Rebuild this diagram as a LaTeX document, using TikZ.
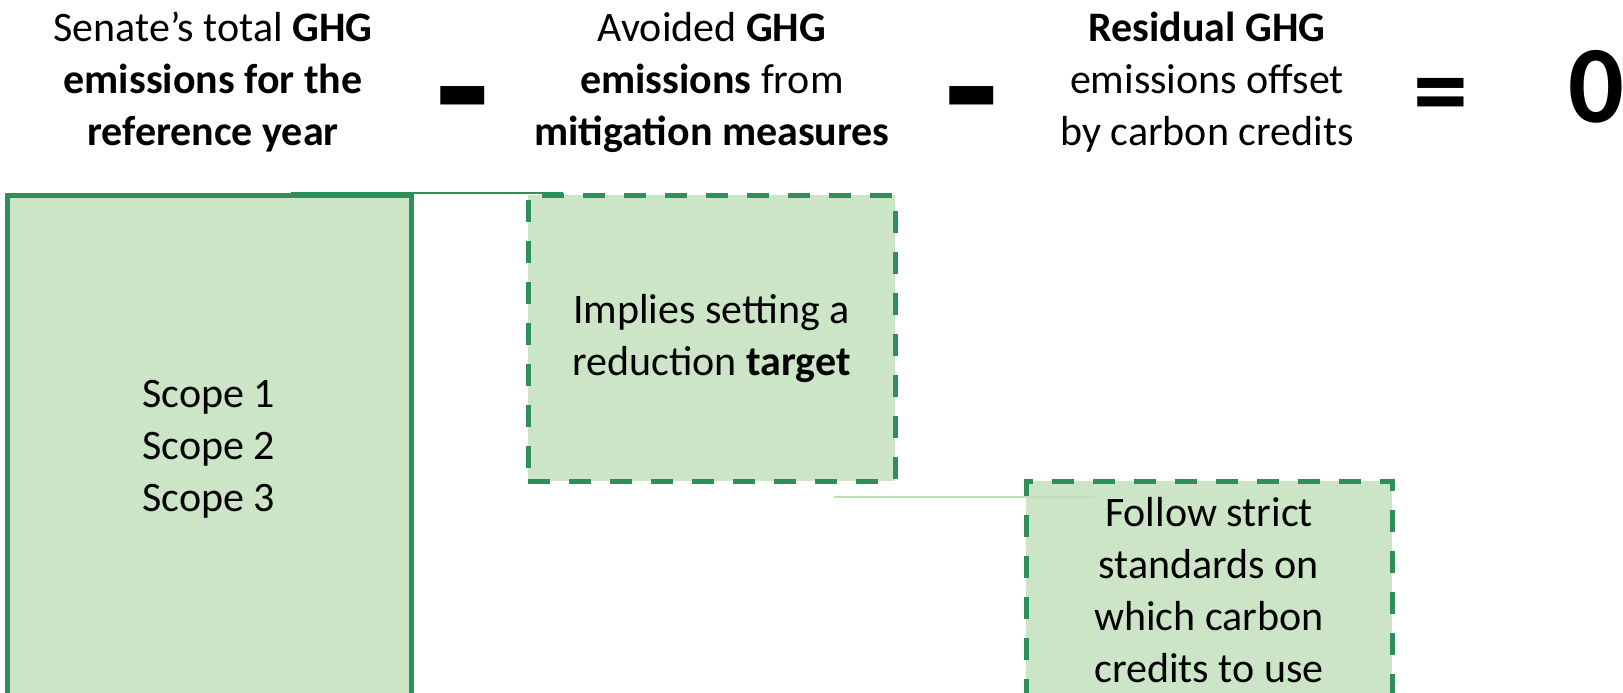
\documentclass[tikz,border=0pt]{standalone}
\usepackage{fontspec}
\setmainfont{Carlito}
\usetikzlibrary{positioning}
\definecolor{boxfill}{HTML}{CCE5C7}
\definecolor{boxline}{HTML}{2E8F5A}
\definecolor{linkline}{HTML}{C3DDBB}

\begin{document}
\begin{tikzpicture}[x=1pt, y=-1pt, font=\fontsize{42}{52}\selectfont,
  box/.style={rectangle, fill=boxfill, draw=boxline, line width=5pt, outer sep=0pt, inner sep=0pt, align=center},
  dashbox/.style={box, dash pattern=on 22pt off 19pt},
  head/.style={align=center, inner sep=0pt},
  sign/.style={font=\fontsize{110}{110}\selectfont\bfseries, inner sep=0pt, anchor=base}]
  \useasboundingbox (0,0) rectangle (1623,693);
  \clip (0,0) rectangle (1623,693);
  \node[box, minimum width=404pt, minimum height=508pt, anchor=north west] (scope) at (7,195) {Scope 1\\Scope 2\\Scope 3};
  \node[dashbox, minimum width=367pt, minimum height=286pt, below right=0pt and 117pt of scope.north east] (target) {Implies setting a\\reduction \textbf{target}};
  \node[dashbox, minimum width=366pt, minimum height=218pt, below right=0pt and 131pt of target.south east] (credits) {Follow strict\\standards on\\which carbon\\credits to use};
  \node[head] (total) at (213,82) {Senate’s total \textbf{GHG}\\\textbf{emissions for the}\\\textbf{reference year}};
  \node[head] (avoided) at (712,82) {Avoided \textbf{GHG}\\\textbf{emissions} from\\\textbf{mitigation measures}};
  \node[head] (residual) at (1207,82) {\textbf{Residual GHG}\\emissions offset\\by carbon credits};
  \node[sign, font=\fontsize{178}{178}\selectfont\bfseries] (minusa) at (463,146) {-};
  \node[sign, font=\fontsize{178}{178}\selectfont\bfseries] (minusb) at (972,146) {-};
  \node[sign] (equals) at (1441,128) {=};
  \node[sign] (zero) at (1596,122) {0};
  \coordinate (linka) at (291,193);
  \coordinate (linkb) at (834,497);
  \draw[boxline, line width=1.8pt] (linka) -- ([xshift=35pt]linka -| target.west);
  \draw[linkline, line width=2pt] (linkb) -- ([xshift=69pt]linkb -| credits.west);
\end{tikzpicture}
\end{document}
